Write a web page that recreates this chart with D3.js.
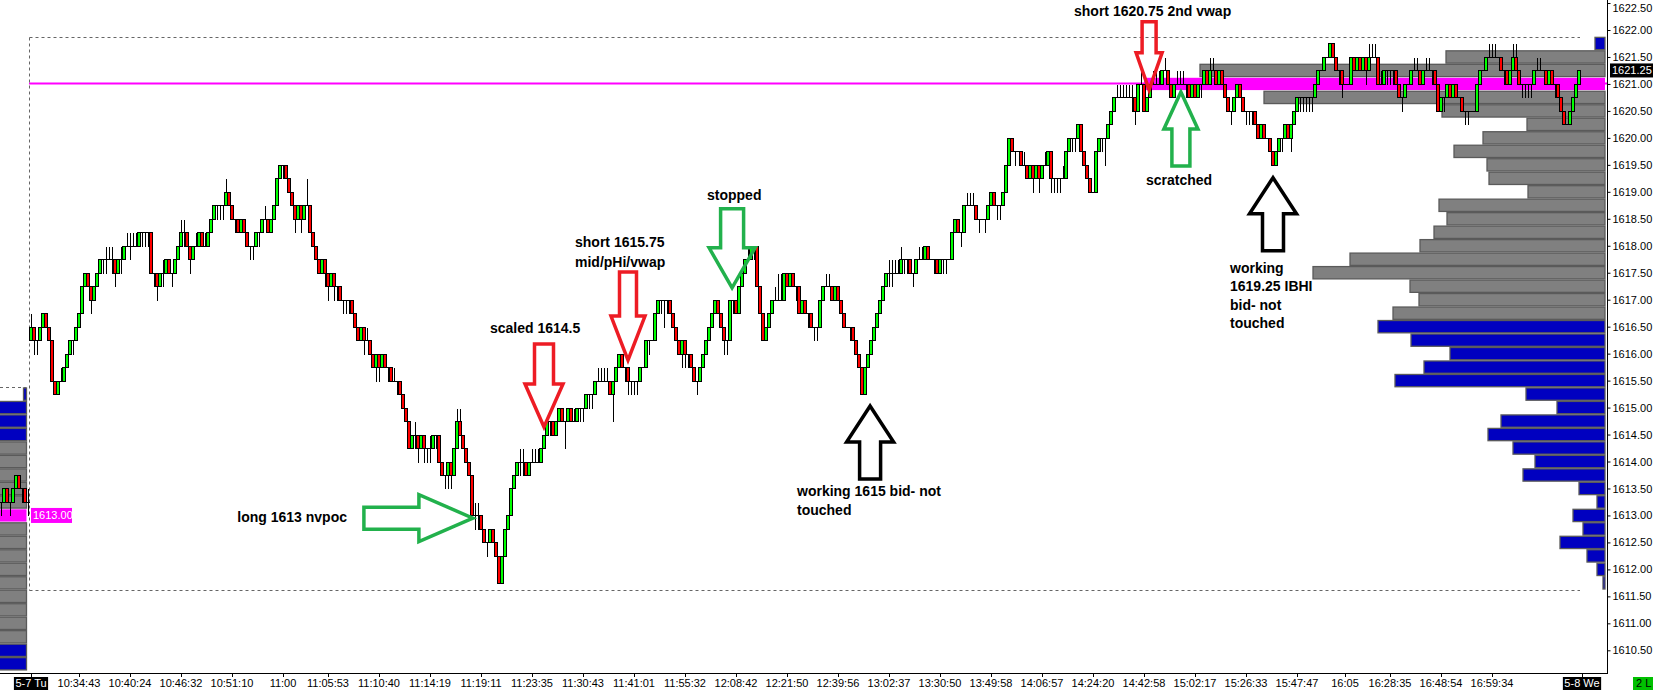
<!DOCTYPE html>
<html><head><meta charset="utf-8">
<script src="https://cdn.jsdelivr.net/npm/d3@7"></script>
<style>
html,body{margin:0;padding:0;background:#fff;overflow:hidden}
svg{display:block}
text{font-family:"Liberation Sans",Arial,sans-serif}
</style></head><body>
<svg id="c" width="1653" height="690"></svg>
<script>
// ---------------- DATA ----------------
// prices are stored in ticks: price = TICK_BASE + tick * TICK_SIZE
const TICK_BASE = 1610, TICK_SIZE = 0.25;

// previous session (5-6) last bars, visible at the far left
const prevOpenTicks  = [13,13,14,13,13,14,15,14,14,13];
const prevCloseTicks = [13,14,13,13,14,15,14,14,13,13];
const prevHighTicks  = [13,14,14,13,14,15,15,14,14,14];
const prevLowTicks   = [12,13,13,12,13,14,14,13,13,12];
const prevBarIndex   = [-10,-9,-8,-7,-6,-5,-4,-3,-2,-1];

// session 5-7 bars
const openTicks = [
25,26,25,25,26,27,26,25,22,21, 22,22,23,24,25,25,26,27,29,30, 29,28,29,30,31,31,31,31,31,30,
31,31,32,32,32,32,32,33,33,33, 33,30,30,29,30,30,31,30,30,31, 32,33,33,32,31,32,32,33,32,32,
33,34,35,35,35,35,36,35,34,34, 33,34,33,32,32,32,33,33,34,34, 33,34,35,37,38,38,37,36,35,34,
35,34,35,35,33,32,31,30,31,30, 29,30,29,29,28,28,28,28,27,26, 25,26,25,25,24,23,24,23,24,23,
23,22,22,22,21,20,19,17,18,18, 17,18,17,17,17,18,18,16,15,15, 16,15,17,19,18,17,16,15,12,12,
12,11,10,10,11,10,9,7,9,11, 12,14,15,16,16,16,15,16,16,16, 16,17,18,19,19,18,19,20,19,19,
20,19,19,20,20,20,21,21,21,22, 22,22,22,22,21,22,23,24,23,23, 22,22,22,22,23,23,25,25,25,27,
28,28,28,28,27,26,25,24,25,24, 24,23,22,22,23,24,25,26,27,28, 27,26,25,25,28,28,27,29,30,31,
31,32,32,29,27,25,26,27,28,28, 28,28,30,29,30,29,29,27,28,27, 27,26,26,26,28,29,29,29,28,29,
28,27,26,26,26,25,24,23,21,23, 24,25,26,27,28,29,30,30,30,30, 30,31,31,31,30,30,31,31,31,32,
31,31,31,30,31,31,31,31,33,34, 33,33,35,35,35,35,34,34,34,34, 35,36,35,35,35,36,38,40,39,39,
39,38,38,37,38,37,38,37,38,38, 39,37,37,37,37,37,39,40,40,40, 41,39,38,37,36,36,39,40,40,40,
41,42,43,43,43,43,43,43,43,42, 44,44,42,43,44,44,44,44,45,45, 44,43,44,44,44,44,44,43,44,43,
44,44,45,44,45,45,44,45,44,43, 42,42,43,44,43,42,42,42,42,41, 40,41,40,40,39,38,39,40,40,41,
40,41,42,43,43,43,43,43,43,44, 45,45,46,46,47,46,45,45,44,44, 44,46,45,46,45,46,45,46,46,46,
44,44,45,45,45,45,44,43,43,44, 44,45,45,45,44,45,45,45,45,44, 42,43,43,44,43,44,43,43,42,42,
42,42,42,44,45,45,46,46,46,46, 46,45,45,44,45,46,45,44,44,44, 44,44,45,45,45,45,44,45,44,44,
43,42,41,41,42,43,44];
const closeTicks = [
26,25,25,26,27,26,25,22,21,22, 22,23,24,25,25,26,27,29,30,29, 28,29,30,31,31,31,31,31,30,31,
31,32,32,32,32,32,33,33,33,33, 30,30,29,30,30,31,30,30,31,32, 33,33,32,31,32,32,33,32,32,33,
34,35,35,35,35,36,35,34,34,33, 34,33,32,32,32,33,33,34,34,33, 34,35,37,38,38,37,36,35,34,35,
34,35,35,33,32,31,30,31,30,29, 30,29,29,28,28,28,28,27,26,25, 26,25,25,24,23,24,23,24,23,23,
22,22,22,21,20,19,17,18,18,17, 18,17,17,17,18,18,16,15,15,16, 15,17,19,18,17,16,15,12,12,12,
11,10,10,11,10,9,7,9,11,12, 14,15,16,16,16,15,16,16,16,16, 17,18,19,19,18,19,20,19,19,20,
19,19,20,20,20,21,21,21,22,22, 22,22,22,21,22,23,24,23,23,22, 22,22,22,23,23,25,25,25,27,28,
28,28,28,27,26,25,24,25,24,24, 23,22,22,23,24,25,26,27,28,27, 26,25,25,28,28,27,29,30,31,31,
32,32,29,27,25,26,27,28,28,28, 28,30,29,30,29,29,27,28,27,27, 26,26,26,28,29,29,29,28,29,28,
27,26,26,26,25,24,23,21,23,24, 25,26,27,28,29,30,30,30,30,30, 31,31,31,30,30,31,31,31,32,31,
31,31,30,31,31,31,31,33,34,33, 33,35,35,35,35,34,34,34,34,35, 36,35,35,35,36,38,40,39,39,39,
38,38,37,38,37,38,37,38,38,39, 37,37,37,37,37,39,40,40,40,41, 39,38,37,36,36,39,40,40,40,41,
42,43,43,43,43,43,43,43,42,44, 44,42,43,44,44,44,44,45,45,44, 43,44,44,44,44,44,43,44,43,44,
44,45,44,45,45,44,45,44,43,42, 42,43,44,43,42,42,42,42,41,40, 41,40,40,39,38,39,40,40,41,40,
41,42,43,43,43,43,43,43,44,45, 45,46,46,47,46,45,45,44,44,44, 46,45,46,45,46,45,46,46,46,44,
44,45,45,45,45,44,43,43,44,44, 45,45,45,44,45,45,45,45,44,42, 43,43,44,43,44,43,43,42,42,42,
42,42,44,45,45,46,46,46,46,46, 45,45,44,45,46,45,44,44,44,44, 44,45,45,45,45,44,45,44,44,43,
42,41,41,42,43,44,45];
const highTicks = [
27,26,25,26,27,27,26,25,22,22, 23,23,24,25,25,26,27,29,30,30, 29,29,30,31,31,32,32,32,31,31,
32,32,33,33,33,33,33,33,33,33, 33,30,30,30,31,31,31,30,31,32, 34,34,33,32,32,33,33,33,33,33,
34,35,35,35,35,37,36,35,34,34, 34,34,33,32,32,33,33,34,35,34, 34,35,37,38,38,38,37,36,35,35,
35,35,37,35,33,32,31,31,31,30, 30,30,29,29,28,28,28,28,27,26, 26,26,26,25,24,24,24,24,24,23,
23,23,22,22,21,20,19,18,19,18, 18,18,17,18,18,18,18,16,15,16, 16,17,20,20,18,17,16,15,13,13,
12,11,10,11,11,10,9,9,11,12, 14,15,16,17,17,16,16,17,17,17, 17,18,19,19,19,19,20,20,19,20,
20,20,20,20,20,21,21,21,22,23, 23,23,23,22,22,23,24,24,23,23, 22,22,22,23,23,25,25,25,27,28,
28,28,28,28,27,26,25,25,25,24, 24,23,22,23,24,25,26,27,28,28, 27,26,25,28,28,28,29,30,31,32,
32,32,32,29,27,26,27,28,29,30, 30,30,30,30,30,29,29,28,28,27, 27,26,26,28,29,30,30,29,29,29,
28,27,26,26,26,25,24,23,23,24, 25,26,27,28,29,30,31,31,31,31, 32,31,31,31,30,31,32,32,32,32,
31,31,31,31,31,31,31,33,34,34, 33,35,36,36,36,35,34,34,34,35, 36,36,35,35,36,38,40,40,39,39,
39,39,38,38,38,38,38,38,39,39, 39,37,37,37,38,39,40,40,40,41, 41,39,38,37,36,39,40,40,40,41,
42,43,44,44,44,44,44,44,43,44, 45,44,43,44,45,45,45,45,46,45, 44,44,45,45,45,44,44,44,44,44,
44,45,45,46,46,45,45,45,44,43, 42,43,44,44,43,42,42,42,42,41, 41,41,40,40,39,39,40,40,41,41,
41,42,43,43,43,43,43,43,44,45, 45,46,46,47,47,46,45,45,44,44, 46,46,46,46,46,46,47,47,47,46,
45,45,45,45,45,45,44,43,44,44, 45,46,46,45,45,46,46,45,45,44, 43,43,44,44,44,44,43,43,42,42,
42,42,44,45,45,46,47,47,47,46, 46,45,45,45,47,47,45,44,44,44, 44,45,46,46,45,45,45,45,44,44,
43,42,41,42,43,44,45];
const lowTicks = [
25,24,24,25,26,26,25,22,21,21, 22,22,23,24,24,25,26,27,29,29, 27,28,29,30,30,30,31,30,29,30,
30,31,32,31,32,32,32,32,32,32, 30,29,28,29,29,30,30,29,30,31, 32,32,32,30,31,32,32,32,32,32,
33,34,34,34,34,35,35,34,33,33, 33,33,32,31,31,32,32,33,34,33, 33,34,35,37,37,37,36,35,33,34,
33,34,35,33,32,31,30,30,29,28, 29,28,28,28,27,27,27,27,26,25, 25,24,25,24,23,22,22,23,23,22,
22,22,21,21,20,19,17,17,17,16, 17,16,16,16,17,17,16,15,14,14, 14,15,17,18,17,16,15,12,11,11,
11,10,9,10,10,9,7,7,9,11, 12,14,15,15,15,15,15,16,16,16, 16,17,18,18,18,18,19,19,17,19,
19,19,19,19,19,20,20,20,21,22, 22,22,22,21,19,22,23,23,22,21, 21,21,21,22,23,23,24,25,25,27,
27,26,27,27,26,25,24,23,23,23, 23,22,21,22,23,24,25,26,27,27, 26,24,24,25,27,27,27,29,30,31,
31,31,29,27,25,25,26,27,28,28, 28,28,29,29,29,28,27,27,27,26, 26,25,25,26,28,29,29,28,28,28,
27,26,26,25,25,24,23,21,21,23, 24,25,26,27,28,29,29,29,30,30, 30,30,30,30,29,30,31,31,31,31,
31,30,30,30,30,30,31,31,33,33, 32,33,35,35,35,34,33,34,33,34, 35,35,34,34,35,36,38,39,38,39,
38,38,37,37,36,37,36,37,38,38, 36,36,36,36,37,37,39,39,39,40, 39,38,37,36,36,36,39,39,38,40,
41,42,43,43,43,43,43,42,41,42, 44,42,42,43,44,44,44,44,45,44, 43,43,44,44,44,43,43,43,43,43,
43,44,44,44,45,44,44,44,43,42, 41,42,43,43,42,41,41,41,41,40, 40,40,40,39,38,38,39,39,40,40,
39,41,42,42,42,42,42,42,43,44, 45,45,46,46,46,45,44,43,44,44, 44,45,45,45,45,44,45,46,46,44,
44,44,44,44,44,44,43,42,43,44, 44,45,45,44,44,45,45,44,44,42, 42,42,43,43,43,43,43,42,41,41,
42,42,42,44,45,45,46,46,46,46, 45,44,44,44,45,45,44,43,43,43, 43,44,45,45,45,44,44,44,43,43,
42,41,41,41,42,43,44];

// session volume profile (5-7)
const profilePrices = [1621.75,1621.5,1621.25,1621,1620.75,1620.5,1620.25,1620,1619.75,1619.5,1619.25,1619,
  1618.75,1618.5,1618.25,1618,1617.75,1617.5,1617.25,1617,1616.75,1616.5,1616.25,1616,1615.75,1615.5,
  1615.25,1615,1614.75,1614.5,1614.25,1614,1613.75,1613.5,1613.25,1613,1612.75,1612.5,1612.25,1612,1611.75];
const profileVolumes = [10,159,405,461,341,163,78,122,151,118,116,77,166,158,171,185,255,292,195,186,212,
  227,194,155,181,210,79,48,104,117,92,70,82,26,8,32,22,45,18,8,2];
const valueArea = [1616.75, 1621.5];
const pocPrice = 1621.0;

// previous session profile tail (left edge)
const prevProfilePrices = [1615.25,1615,1614.75,1614.5,1614.25,1614,1613.75,1613.5,1613.25,1613,1612.75,
  1612.5,1612.25,1612,1611.75,1611.5,1611.25,1611,1610.75,1610.5,1610.25];
const prevProfileVolumes = [3,140,160,175,190,210,230,250,270,300,330,360,390,350,320,290,260,230,200,150,120];
const prevValueArea = [1610.75, 1614.25];
const prevPocPrice = 1613.0;
const prevSessionHigh = 1615.25;

const sessionRange = [1611.75, 1621.75];
const lastPrice = 1621.25;

// axes
const priceTicks = [1610.5,1611,1611.5,1612,1612.5,1613,1613.5,1614,1614.5,1615,1615.5,1616,1616.5,
  1617,1617.5,1618,1618.5,1619,1619.5,1620,1620.5,1621,1621.5,1622,1622.5];
const timeLabels = ["5-7 Tu","10:34:43","10:40:24","10:46:32","10:51:10","11:00","11:05:53","11:10:40",
  "11:14:19","11:19:11","11:23:35","11:30:43","11:41:01","11:55:32","12:08:42","12:21:50","12:39:56",
  "13:02:37","13:30:50","13:49:58","14:06:57","14:24:20","14:42:58","15:02:17","15:26:33","15:47:47",
  "16:05","16:28:35","16:48:54","16:59:34","5-8 We"];
const timeBars = [0,16,33,50,67,84,99,116,133,150,167,184,201,218,235,252,269,286,303,320,337,354,371,
  388,405,422,438,453,470,487,517];
const sessionLabels = ["5-7 Tu","5-8 We"];

// annotations (anchored at bar index / price)
const notes = [
  {kind:"arrow", dir:"down", color:"#ed1c24", bar:372.7, price:1620.89, shaftW:14, headW:26, shaftL:31, headL:37},
  {kind:"arrow", dir:"up",   color:"#22b14c", bar:383.3, price:1620.85, shaftW:18, headW:34, shaftL:37, headL:37},
  {kind:"arrow", dir:"up",   color:"#000000", bar:414,   price:1619.26, shaftW:21, headW:47, shaftL:37, headL:36},
  {kind:"arrow", dir:"up",   color:"#000000", bar:279.7, price:1615.03, shaftW:21, headW:47, shaftL:37, headL:36},
  {kind:"arrow", dir:"down", color:"#22b14c", bar:233.7, price:1617.22, shaftW:23, headW:46, shaftL:39, headL:40},
  {kind:"arrow", dir:"down", color:"#ed1c24", bar:199,   price:1615.88, shaftW:17, headW:34, shaftL:44, headL:44},
  {kind:"arrow", dir:"down", color:"#ed1c24", bar:171,   price:1614.64, shaftW:19, headW:38, shaftL:40, headL:43},
  {kind:"arrow", dir:"right",color:"#22b14c", bar:147.3, price:1612.95, shaftW:22, headW:47, shaftL:55, headL:54}
];
const texts = [
  {t:"short 1620.75 2nd vwap", x:1074, y:16, a:"start"},
  {t:"scratched", x:1146, y:185, a:"start"},
  {t:"working", x:1230, y:273, a:"start"},
  {t:"1619.25 IBHI", x:1230, y:291, a:"start"},
  {t:"bid- not", x:1230, y:310, a:"start"},
  {t:"touched", x:1230, y:328, a:"start"},
  {t:"stopped", x:707, y:200, a:"start"},
  {t:"short 1615.75", x:575, y:247, a:"start"},
  {t:"mid/pHi/vwap", x:575, y:267, a:"start"},
  {t:"scaled 1614.5", x:490, y:333, a:"start"},
  {t:"long 1613 nvpoc", x:347, y:522, a:"end"},
  {t:"working 1615 bid- not", x:797, y:496, a:"start"},
  {t:"touched", x:797, y:515, a:"start"}
];

// ---------------- DRAW ----------------
const svg = d3.select("#c");
const plotRight = 1607, plotBottom = 673;
const x = d3.scaleLinear().domain([0, 517]).range([31, 1582]);
const y = d3.scaleLinear().domain([1610.5, 1622]).range([650.3, 30]);
const tp = t => TICK_BASE + t * TICK_SIZE;
const cr = v => Math.round(v) + 0.5;
const rowH = y(1610.5) - y(1610.75);

svg.append("rect").attr("width",1653).attr("height",690).attr("fill","#fff");
svg.append("defs").append("clipPath").attr("id","plot")
  .append("rect").attr("x",0).attr("y",0).attr("width",plotRight).attr("height",plotBottom);
const g = svg.append("g").attr("clip-path","url(#plot)");

// volume profiles
const vol = d3.scaleLinear().domain([0, d3.max(profileVolumes)]).range([0, 461]);
function drawProfile(prices, vols, rightX, va, poc) {
  const rows = prices.map((p,i)=>({p, v:vols[i]}));
  g.append("g").selectAll("rect").data(rows).join("rect")
    .attr("x", d => rightX - vol(d.v))
    .attr("y", d => y(d.p) - rowH/2 + 0.6)
    .attr("width", d => vol(d.v))
    .attr("height", rowH - 1.2)
    .attr("fill", d => d.p === poc ? "#ff00ff" : (d.p >= va[0] && d.p <= va[1] ? "#808080" : "#0000c0"))
    .attr("stroke", d => d.p === poc ? "none" : "#5a5a5a")
    .attr("stroke-width", 1.3);
}
drawProfile(profilePrices, profileVolumes, 1605, valueArea, pocPrice);
drawProfile(prevProfilePrices, prevProfileVolumes, 26.5, prevValueArea, prevPocPrice);

// session POC line
g.append("line").attr("x1", x(0)-2).attr("x2", plotRight).attr("y1", y(pocPrice)-0.5).attr("y2", y(pocPrice)-0.5)
  .attr("stroke","#ff00ff").attr("stroke-width",2);

// session range dashed box
const topY = cr(y(sessionRange[1]) - rowH/2), botY = cr(y(sessionRange[0]) + rowH/2);
const dashL = cr(x(0) - 2.5), dashR = x(516) + 1;
const dash = {stroke:"#666", "stroke-width":1, "stroke-dasharray":"3,3"};
function dline(x1,y1,x2,y2){ const l=g.append("line").attr("x1",x1).attr("y1",y1).attr("x2",x2).attr("y2",y2); Object.entries(dash).forEach(([k,v])=>l.attr(k,v)); }
dline(dashL, topY, dashR, topY);
dline(dashL, botY, dashR, botY);
dline(dashL, topY, dashL, botY);
dline(0, cr(y(prevSessionHigh) - rowH/2), 26, cr(y(prevSessionHigh) - rowH/2));

// candles
function drawBars(idx, O, H, L, C) {
  const bars = idx.map((b,i)=>({b, o:tp(O[i]), h:tp(H[i]), l:tp(L[i]), c:tp(C[i])}));
  const bg = g.append("g").attr("shape-rendering","crispEdges");
  bg.selectAll("line.w").data(bars).join("line").attr("class","w")
    .attr("x1", d => x(d.b)+0.5).attr("x2", d => x(d.b)+0.5)
    .attr("y1", d => cr(y(Math.max(d.h,d.o,d.c)))).attr("y2", d => cr(y(Math.min(d.l,d.o,d.c))))
    .attr("stroke","#000").attr("stroke-width",1);
  bg.selectAll("line.d").data(bars.filter(d=>d.o===d.c)).join("line").attr("class","d")
    .attr("x1", d => x(d.b)-1.5).attr("x2", d => x(d.b)+1.5)
    .attr("y1", d => cr(y(d.o))).attr("y2", d => cr(y(d.o)))
    .attr("stroke","#000").attr("stroke-width",1);
  bg.selectAll("rect").data(bars.filter(d=>d.o!==d.c)).join("rect")
    .attr("x", d => x(d.b)-1.5).attr("width", 3)
    .attr("y", d => cr(y(Math.max(d.o,d.c))))
    .attr("height", d => Math.round(y(Math.min(d.o,d.c))) - Math.round(y(Math.max(d.o,d.c))))
    .attr("fill", d => d.c > d.o ? "#00ff00" : "#ff0000")
    .attr("stroke","#000").attr("stroke-width",1);
}
drawBars(prevBarIndex, prevOpenTicks, prevHighTicks, prevLowTicks, prevCloseTicks);
drawBars(openTicks.map((_,i)=>i), openTicks, highTicks, lowTicks, closeTicks);

// annotation arrows
function arrowPts(n){
  const tx = x(n.bar), ty = y(n.price), sw = n.shaftW/2, hw = n.headW/2;
  if (n.dir === "down") { const hb = ty - n.headL, top = hb - n.shaftL;
    return [[tx,ty],[tx-hw,hb],[tx-sw,hb],[tx-sw,top],[tx+sw,top],[tx+sw,hb],[tx+hw,hb]]; }
  if (n.dir === "up") { const hb = ty + n.headL, bot = hb + n.shaftL;
    return [[tx,ty],[tx+hw,hb],[tx+sw,hb],[tx+sw,bot],[tx-sw,bot],[tx-sw,hb],[tx-hw,hb]]; }
  const hb = tx - n.headL, left = hb - n.shaftL;
  return [[tx,ty],[hb,ty+hw],[hb,ty+sw],[left,ty+sw],[left,ty-sw],[hb,ty-sw],[hb,ty-hw]];
}
svg.append("g").selectAll("polygon").data(notes).join("polygon")
  .attr("points", d => arrowPts(d).map(p=>p.join(",")).join(" "))
  .attr("fill","none").attr("stroke", d=>d.color).attr("stroke-width",3.5).attr("stroke-linejoin","miter");

svg.append("g").selectAll("text").data(texts).join("text")
  .attr("x", d=>d.x).attr("y", d=>d.y).attr("text-anchor", d=>d.a)
  .attr("font-size", 14).attr("font-weight","bold").attr("fill","#000").text(d=>d.t);

// right price axis
svg.append("line").attr("x1",plotRight+0.5).attr("x2",plotRight+0.5).attr("y1",0).attr("y2",plotBottom+1)
  .attr("stroke","#000");
const ya = svg.append("g").attr("transform",`translate(${plotRight+0.5},0)`)
  .call(d3.axisRight(y).tickValues(priceTicks).tickFormat(d3.format(".2f")).tickSize(3).tickPadding(2).tickSizeOuter(0));
ya.select(".domain").remove();
ya.selectAll("text").attr("font-size",11).attr("font-family","Liberation Sans, Arial").attr("fill","#000")
  .attr("dy", d => y(d) < 8 ? "0.8em" : "0.32em");
ya.selectAll("line").attr("stroke","#000");

// last price label
const lp = svg.append("g").attr("transform",`translate(1610,${y(lastPrice)})`);
lp.append("rect").attr("x",0).attr("y",-7).attr("width",43).attr("height",14).attr("fill","#000");
lp.append("text").attr("x",2).attr("y",4).attr("font-size",11).attr("fill","#fff").text(d3.format(".2f")(lastPrice));

// previous POC label
const pp = svg.append("g").attr("transform",`translate(31,${y(prevPocPrice)})`);
pp.append("rect").attr("x",0).attr("y",-7.5).attr("width",41).attr("height",15).attr("fill","#ff00ff");
pp.append("text").attr("x",2).attr("y",4).attr("font-size",11).attr("fill","#fff").text(d3.format(".2f")(prevPocPrice));

// bottom time axis
svg.append("line").attr("x1",0).attr("x2",plotRight+1).attr("y1",plotBottom+0.5).attr("y2",plotBottom+0.5).attr("stroke","#000");
const xa = svg.append("g");
timeBars.forEach((b,i) => {
  const tx = Math.round(x(b)) + 0.5;
  xa.append("line").attr("x1",tx).attr("x2",tx).attr("y1",plotBottom).attr("y2",plotBottom+4).attr("stroke","#000");
  const lab = timeLabels[i];
  const isSess = sessionLabels.includes(lab);
  const t = xa.append("text").attr("x",x(b)).attr("y",687).attr("text-anchor","middle")
    .attr("font-size",11).attr("fill", isSess ? "#fff" : "#000").text(lab);
  if (isSess) {
    const w = t.node().getComputedTextLength();
    xa.insert("rect","text").attr("x",x(b)-w/2-1.5).attr("y",677).attr("width",w+3).attr("height",13).attr("fill","#000");
  }
});
svg.append("rect").attr("x",1633).attr("y",677).attr("width",20).attr("height",13).attr("fill","#00c000");
svg.append("text").attr("x",1636).attr("y",687).attr("font-size",11).attr("fill","#000").text("2 L");
</script>
</body></html>
